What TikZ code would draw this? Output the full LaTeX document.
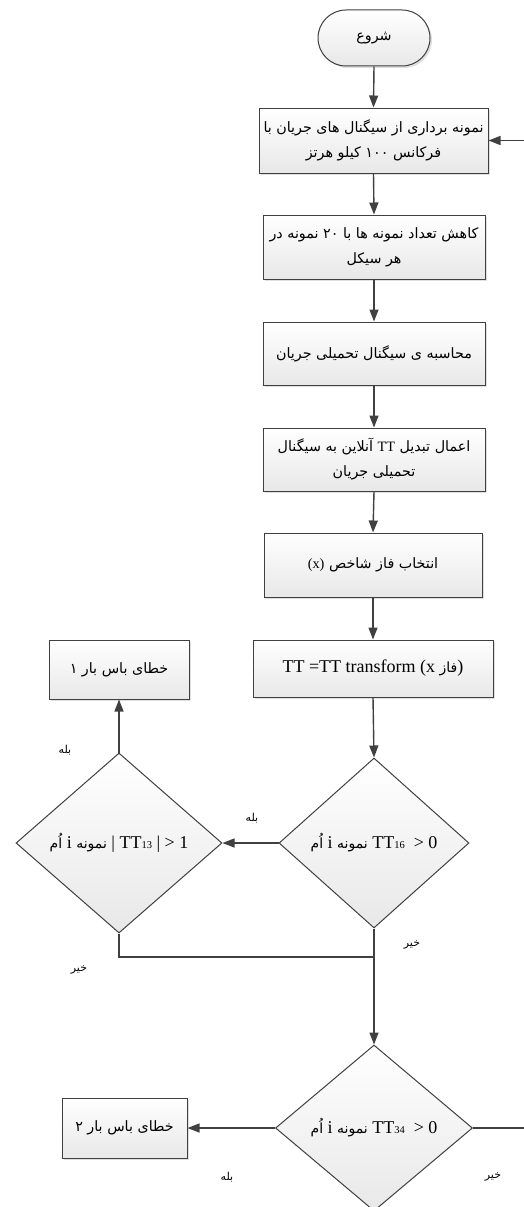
\documentclass[tikz,border=0pt]{standalone}
\usepackage{fontspec}
\setmainfont{Liberation Serif}
\newfontfamily\arabicfont[Script=Arabic]{DejaVu Sans}
\TeXXeTstate=1
\usepackage{tikz}
\usetikzlibrary{calc,arrows.meta,shapes.geometric,shadows,positioning}
\definecolor{flowline}{HTML}{404040}
\definecolor{flowfill}{HTML}{E8E8E8}
\tikzset{conn/.style={flowline,line width=1.4pt},answer/.style={font=\arabicfont\fontsize{11}{13}\selectfont,inner sep=0pt}}
\newcommand{\ltxt}[1]{\beginL{\rmfamily #1}\endL{}}
\newcommand{\ttsub}[1]{{\fontsize{10.5}{12}\selectfont #1}}
\newcommand{\fa}[1]{{\arabicfont\fontsize{14}{20}\selectfont #1}}

\begin{document}
\begin{tikzpicture}[x=1pt, y=-1pt, >={Triangle[length=12pt,width=9pt]}]

\tikzset{greybox/.style={draw=flowline,line width=1pt,top color=white,bottom color=flowfill,drop shadow={opacity=0.25,shadow xshift=2pt,shadow yshift=-2pt},minimum width=222pt,minimum height=63pt,align=center,inner sep=2pt,font=\arabicfont\fontsize{14.3}{25}\selectfont},
decision/.style={shape=diamond,draw=flowline,line width=1pt,top color=white,bottom color=flowfill,inner sep=0pt,font=\rmfamily\fontsize{18}{20}\selectfont}}

\useasboundingbox (0,0) rectangle (524,1207);

% Main column
\node[greybox,minimum width=112pt,minimum height=56pt,rounded corners=28pt] (start) at (374,38) {\beginR شروع\endR};
\node[greybox,minimum width=229pt,minimum height=65pt] (sample) at (373.5,140.5) {\beginR نمونه برداری از سیگنال های جریان با\endR\\\beginR فرکانس ۱۰۰ کیلو هرتز\endR};
\node[greybox,minimum height=64pt] (reduce) at (374,247) {\beginR کاهش تعداد نمونه ها  با ۲۰ نمونه در\endR\\\beginR هر سیکل\endR};
\node[greybox] (burden) at (374,353.5) {\beginR محاسبه ی سیگنال تحمیلی جریان\endR};
\node[greybox] (ttapply) at (374,459.5) {\beginR اعمال تبدیل \ltxt{TT} آنلاین به سیگنال\endR\\\beginR تحمیلی جریان\endR};
\node[greybox,minimum width=218pt,minimum height=64pt] (phase) at (373,565) {\beginR انتخاب فاز شاخص \ltxt{(x)}\endR};
\node[greybox,minimum width=240pt,minimum height=57pt,font=\rmfamily\fontsize{18}{20}\selectfont] (ttcalc) at (373,668.5) {TT =TT transform (x \fa{\beginR فاز\endR})};

% Decisions
\node[decision,minimum width=190pt,minimum height=170pt] (dec16) at (374,843) {\beginR\ltxt{TT\ttsub{16} \ > 0} \fa{نمونه} \ltxt{i} \fa{اُم}\endR};
\node[decision,minimum width=206pt,minimum height=180pt] (dec13) at (119,843) {\beginR\ltxt{| TT\ttsub{13} | > 1} \fa{نمونه} \ltxt{i} \fa{اُم}\endR};
\node[decision,minimum width=197pt,minimum height=166pt] (dec34) at (374,1128) {\beginR\ltxt{TT\ttsub{34} \ > 0} \fa{نمونه} \ltxt{i} \fa{اُم}\endR};

% Faults
\node[greybox,minimum width=140pt,minimum height=59pt] (fault1) at (119,669.5) {\beginR خطای باس بار ۱\endR};
\node[greybox,minimum width=125pt,minimum height=60pt] (fault2) at (124.5,1128) {\beginR خطای باس بار ۲\endR};

% Arrows
\foreach \a/\b in {start/sample,sample/reduce,reduce/burden,burden/ttapply,ttapply/phase,phase/ttcalc,ttcalc/dec16}
  \draw[conn,->] (\a.south) -- (\b.north);
\draw[conn,->] (dec16.west) -- (dec13.east);
\draw[conn,->] (dec13.north) -- (fault1.south);
\coordinate (merge) at (374,957);
\draw[conn] (dec16.south) -- (merge);
\draw[conn] (dec13.south) |- (merge);
\draw[conn,->] (merge) -- (dec34.north);
\draw[conn,->] (dec34.west) -- (fault2.east);

% Loop back (runs off the right edge)
\coordinate (loopdown) at (526,1128);
\coordinate (loopup) at (526,140.5);
\draw[conn,->] (dec34.east) -- (loopdown) -- (loopup) -- (sample.east);

% Answers
\node[answer] (yes1) at (252,818) {\beginR بله\endR};
\node[answer] (yes2) at (65,750) {\beginR بله\endR};
\node[answer] (no1) at (412,945) {\beginR خیر\endR};
\node[answer] (no2) at (79,970) {\beginR خیر\endR};
\node[answer] (yes3) at (227,1177) {\beginR بله\endR};
\node[answer] (no3) at (493,1177) {\beginR خیر\endR};

\end{tikzpicture}
\end{document}
